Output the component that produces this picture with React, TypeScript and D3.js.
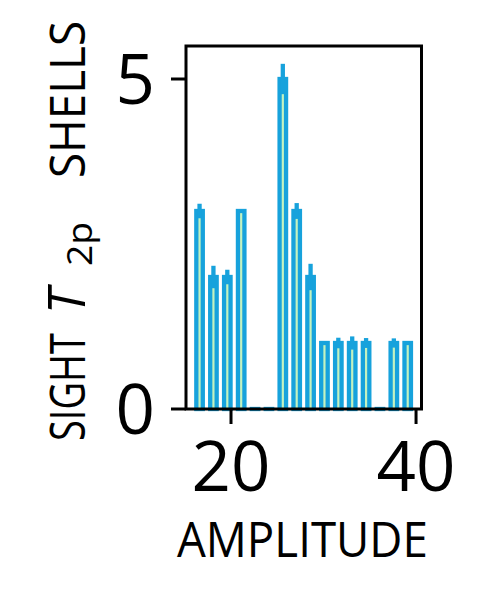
import React from "react";
import * as d3 from "d3";

const binCenters = [16.6, 18.1, 19.6, 21.1, 22.6, 24.1, 25.6, 27.1, 28.6, 30.1, 31.6, 33.1, 34.6, 36.1, 37.6, 39.1];
const values = [3.0, 2.0, 2.0, 3.0, 0, 0, 5.0, 3.0, 2.0, 1.0, 1.0, 1.0, 1.0, 0, 1.0, 1.0];
const errors = [0.11, 0.17, 0.11, 0.03, 0, 0, 0.23, 0.12, 0.2, 0.0, 0.08, 0.1, 0.075, 0, 0.07, 0.03];
const xTicks = [20, 40];
const yTicks = [0, 5];
const xLabel = "AMPLITUDE";

const W = 497, H = 614;
const L = 186, R = 421.5, T = 46, B = 409;
const BLUE = "#17a2dc";
const GREEN = "#c4f2c0";
const FONT = "'Open Sans', sans-serif";

export default function App() {
  const x = d3.scaleLinear().domain([15.135, 40.59]).range([L, R]);
  const y = d3.scaleLinear().domain([0, 5.5]).range([B, T]);
  const barW = x(0.7) - x(0);
  const lw = 4.3;
  return (
    <svg width={W} height={H} style={{ position: "absolute", left: 0, top: 0 }}>
      <rect width={W} height={H} fill="#fff" />
      {binCenters.map((c, i) => {
        const cx = x(c);
        const top = y(values[i]);
        return (
          <g key={i}>
            <rect x={cx - barW / 2 - lw / 2} y={top - lw / 2} width={barW + lw} height={B - top + lw} fill={BLUE} />
            {values[i] > 0 && (
              <rect x={cx - barW / 2 + lw / 2} y={top + lw / 2} width={Math.max(barW - lw, 0)} height={Math.max(B - top - lw / 2, 0)} fill={GREEN} />
            )}
            {values[i] > 0 && errors[i] > 0 && (
              <line x1={cx} x2={cx} y1={y(values[i] - errors[i])} y2={y(values[i] + errors[i])} stroke={BLUE} strokeWidth={4.3} />
            )}
          </g>
        );
      })}
      <rect x={L} y={T} width={R - L} height={B - T} fill="none" stroke="#000" strokeWidth={3} />
      {xTicks.map((t) => (
        <g key={"x" + t}>
          <line x1={x(t)} x2={x(t)} y1={B} y2={B + 15} stroke="#000" strokeWidth={3} />
          <text x={x(t)} y={490.5} textAnchor="middle" fontFamily={FONT} fontSize={69} fill="#000">{t}</text>
        </g>
      ))}
      {yTicks.map((t) => (
        <g key={"y" + t}>
          <line x1={L - 15} x2={L} y1={y(t)} y2={y(t)} stroke="#000" strokeWidth={3} />
          <text x={155} y={y(t) + 25} textAnchor="end" fontFamily={FONT} fontSize={69} fill="#000">{t}</text>
        </g>
      ))}
      <text x={302.4} y={556.7} textAnchor="middle" fontFamily={FONT} fontSize={49} textLength={251} lengthAdjust="spacingAndGlyphs" fill="#000">{xLabel}</text>
      <g fontFamily={FONT} fill="#000">
        <text transform="translate(85,441) rotate(-90)" fontSize={50} textLength={108} lengthAdjust="spacingAndGlyphs">SIGHT</text>
        <text transform="translate(85,314) rotate(-90)" fontSize={51} fontStyle="italic">T</text>
        <text transform="translate(92,266) rotate(-90)" fontSize={35} textLength={44} lengthAdjust="spacingAndGlyphs">2p</text>
        <text transform="translate(85,178) rotate(-90)" fontSize={50} textLength={157} lengthAdjust="spacingAndGlyphs">SHELLS</text>
      </g>
    </svg>
  );
}
